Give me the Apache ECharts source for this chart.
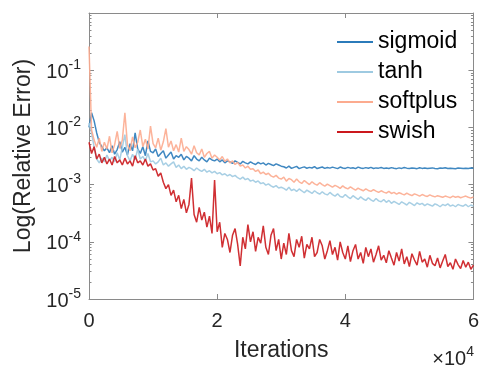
<!DOCTYPE html>
<html>
<head>
<meta charset="utf-8">
<script src="https://cdn.jsdelivr.net/npm/echarts@6/dist/echarts.min.js"></script>
<style>html,body{margin:0;padding:0;background:#fff}#c{width:482px;height:367px}</style>
</head>
<body>
<div id="c"></div>
<script>
// ---- data (iteration step 400, 0..60000) ----
const step = 400;
const sigmoid = [1.0e-2,1.8e-2,1.3e-2,8e-3,5.5e-3,4.6e-3,3.9e-3,4.4e-3,3.6e-3,4.8e-3,3.4e-3,4.1e-3,5.6e-3,3.7e-3,4.5e-3,3.3e-3,5.2e-3,3.9e-3,8.0e-3,4.2e-3,3.5e-3,4.6e-3,3.2e-3,5.8e-3,3.8e-3,
3.6e-3,4.2e-3,3.1e-3,3.5e-3,3.9e-3,2.9e-3,3.3e-3,3.7e-3,2.8e-3,3.2e-3,3.0e-3,3.4e-3,2.7e-3,3.1e-3,2.9e-3,2.6e-3,3.2e-3,2.8e-3,2.6e-3,3.0e-3,2.7e-3,2.5e-3,2.9e-3,2.7e-3,2.6e-3,2.8e-3,2.5e-3,2.7e-3,2.4e-3,2.6e-3,2.5e-3,2.35e-3,2.6e-3,2.45e-3,2.3e-3,2.55e-3,2.4e-3,2.3e-3,2.5e-3,2.35e-3,2.25e-3,2.45e-3,2.3e-3,2.4e-3,2.2e-3,2.35e-3,2.25e-3,2.15e-3,2.3e-3,2.2e-3,2.1e-3,
2.05e-3,1.95e-3,2.1e-3,1.92e-3,2.0e-3,2.08e-3,1.9e-3,1.98e-3,2.04e-3,1.93e-3,2.0e-3,1.95e-3,2.06e-3,1.91e-3,1.97e-3,2.03e-3,1.92e-3,1.99e-3,1.94e-3,2.02e-3,
1.96e-3,1.9e-3,2.03e-3,1.95e-3,1.92e-3,2.0e-3,1.94e-3,1.97e-3,1.9e-3,2.02e-3,1.95e-3,1.92e-3,1.98e-3,1.93e-3,2.0e-3,1.91e-3,1.96e-3,1.94e-3,1.99e-3,1.92e-3,
1.95e-3,1.91e-3,1.98e-3,1.93e-3,1.9e-3,1.96e-3,1.92e-3,1.99e-3,1.94e-3,1.91e-3,1.95e-3,1.93e-3,1.9e-3,1.97e-3,1.92e-3,1.95e-3,1.91e-3,1.94e-3,1.96e-3,1.92e-3,
1.9e-3,1.95e-3,1.93e-3,1.97e-3,1.91e-3,1.94e-3,1.92e-3,1.9e-3,1.95e-3,1.93e-3,1.91e-3,1.94e-3,1.92e-3,1.95e-3,1.93e-3];
const tanh = [1.2e-2,8e-3,4.5e-3,2.8e-3,2.4e-3,2.9e-3,2.5e-3,3.3e-3,2.6e-3,3.0e-3,2.5e-3,3.6e-3,2.7e-3,4.5e-3,7.5e-3,3.2e-3,2.6e-3,3.4e-3,2.7e-3,4.2e-3,2.8e-3,3.1e-3,2.6e-3,3.5e-3,2.5e-3,
2.6e-3,2.3e-3,2.5e-3,2.9e-3,2.2e-3,2.4e-3,2.1e-3,2.3e-3,2.5e-3,2.0e-3,
2.2e-3,1.9e-3,2.1e-3,1.85e-3,2.0e-3,1.9e-3,1.75e-3,1.95e-3,1.8e-3,1.7e-3,
1.85e-3,1.65e-3,1.75e-3,1.6e-3,1.7e-3,1.55e-3,1.62e-3,1.48e-3,1.55e-3,1.42e-3,
1.5e-3,1.38e-3,1.45e-3,1.32e-3,1.25e-3,1.35e-3,1.22e-3,1.28e-3,1.15e-3,1.2e-3,
1.1e-3,1.16e-3,1.04e-3,1.08e-3,0.98e-3,1.03e-3,0.95e-3,0.9e-3,0.96e-3,0.87e-3,0.9e-3,
0.86e-3,0.8e-3,0.9e-3,0.79e-3,0.83e-3,0.76e-3,0.84e-3,0.78e-3,0.72e-3,0.8e-3,0.75e-3,0.7e-3,0.78e-3,0.72e-3,0.68e-3,0.75e-3,0.69e-3,0.66e-3,0.73e-3,0.67e-3,
0.63e-3,0.69e-3,0.62e-3,0.6e-3,0.67e-3,0.61e-3,0.57e-3,0.64e-3,0.59e-3,0.55e-3,0.61e-3,0.56e-3,0.53e-3,0.59e-3,0.54e-3,0.51e-3,0.57e-3,0.52e-3,0.5e-3,0.55e-3,
0.49e-3,0.53e-3,0.47e-3,0.51e-3,0.48e-3,0.45e-3,0.5e-3,0.47e-3,0.44e-3,0.49e-3,0.46e-3,0.43e-3,0.48e-3,0.45e-3,0.47e-3,0.43e-3,0.46e-3,0.44e-3,0.42e-3,0.46e-3,
0.44e-3,0.41e-3,0.45e-3,0.43e-3,0.46e-3,0.42e-3,0.44e-3,0.41e-3,0.45e-3,0.43e-3,0.42e-3,0.45e-3,0.41e-3,0.44e-3,0.42e-3];
const softplus = [2.6e-1,9e-3,6e-3,4.5e-3,6.5e-3,3.8e-3,5.5e-3,4.2e-3,7e-3,3.6e-3,5e-3,8.5e-3,4.3e-3,6e-3,1.8e-2,5e-3,3.9e-3,6.8e-3,4.4e-3,5.5e-3,9e-3,4.6e-3,6.2e-3,4.2e-3,1.05e-2,
5.2e-3,4.4e-3,6.5e-3,4.0e-3,5.6e-3,9.5e-3,4.5e-3,5.8e-3,3.9e-3,5.0e-3,
3.7e-3,6.5e-3,3.8e-3,4.6e-3,4.1e-3,3.4e-3,4.8e-3,3.6e-3,3.3e-3,4.2e-3,
3.0e-3,3.5e-3,3.8e-3,2.9e-3,3.3e-3,3.0e-3,2.7e-3,3.1e-3,2.55e-3,2.8e-3,
2.4e-3,2.6e-3,2.25e-3,2.45e-3,2.1e-3,2.2e-3,1.95e-3,2.1e-3,1.85e-3,1.9e-3,
1.7e-3,1.8e-3,1.55e-3,1.65e-3,1.5e-3,1.58e-3,1.42e-3,1.35e-3,1.45e-3,1.3e-3,1.25e-3,
1.35e-3,1.15e-3,1.28e-3,1.22e-3,1.1e-3,1.25e-3,1.12e-3,1.05e-3,1.18e-3,1.08e-3,1.0e-3,1.12e-3,1.03e-3,0.98e-3,1.08e-3,1.0e-3,0.94e-3,1.02e-3,0.96e-3,0.9e-3,
0.97e-3,0.92e-3,0.86e-3,0.95e-3,0.88e-3,0.84e-3,0.91e-3,0.85e-3,0.8e-3,0.87e-3,0.82e-3,0.78e-3,0.84e-3,0.79e-3,0.76e-3,0.82e-3,0.77e-3,0.73e-3,0.78e-3,0.74e-3,
0.71e-3,0.76e-3,0.7e-3,0.73e-3,0.68e-3,0.72e-3,0.69e-3,0.66e-3,0.71e-3,0.67e-3,0.64e-3,0.69e-3,0.66e-3,0.63e-3,0.67e-3,0.64e-3,0.62e-3,0.66e-3,0.63e-3,0.61e-3,
0.64e-3,0.62e-3,0.6e-3,0.63e-3,0.61e-3,0.59e-3,0.63e-3,0.6e-3,0.62e-3,0.59e-3,0.61e-3,0.63e-3,0.6e-3,0.58e-3,0.61e-3];
const swish = [5.5e-3,3.5e-3,4.6e-3,2.8e-3,3.4e-3,2.4e-3,3.0e-3,2.3e-3,2.8e-3,2.2e-3,3.1e-3,2.4e-3,2.7e-3,2.2e-3,2.9e-3,2.3e-3,2.6e-3,2.1e-3,3.2e-3,2.4e-3,2.6e-3,2.2e-3,2.8e-3,2.1e-3,2.3e-3,
1.8e-3,1.9e-3,1.4e-3,1.6e-3,1.1e-3,8.5e-4,1.0e-3,6.5e-4,8.0e-4,5.0e-4,6.5e-4,3.8e-4,5.5e-4,3.2e-4,4.5e-4,1.3e-3,3.0e-4,2.2e-4,4.0e-4,2.4e-4,3.3e-4,1.8e-4,2.8e-4,1.4e-4,1.2e-3,
1.5e-4,2.2e-4,8.0e-5,1.4e-4,1.1e-4,6.5e-5,1.3e-4,1.7e-4,9.0e-5,3.8e-5,1.2e-4,7.5e-5,2.0e-4,1.0e-4,1.5e-4,6.8e-5,1.2e-4,9.5e-5,1.9e-4,8.0e-5,6.0e-5,1.3e-4,1.7e-4,7.0e-5,1.1e-4,5.0e-5,
9.5e-5,6.0e-5,1.4e-4,7.0e-5,5.5e-5,1.1e-4,8.0e-5,1.25e-4,5.2e-5,9.0e-5,7.5e-5,1.2e-4,5.5e-5,6.5e-5,1.1e-4,8.5e-5,5.0e-5,7.0e-5,1.05e-4,6.0e-5,
8.0e-5,4.8e-5,1.0e-4,6.5e-5,5.0e-5,8.5e-5,4.5e-5,7.0e-5,9.0e-5,5.0e-5,6.5e-5,4.2e-5,8.0e-5,5.5e-5,7.5e-5,4.4e-5,6.0e-5,8.5e-5,4.8e-5,5.8e-5,
4.3e-5,7.0e-5,5.2e-5,3.9e-5,6.5e-5,4.6e-5,7.5e-5,4.1e-5,5.5e-5,3.7e-5,6.2e-5,4.8e-5,3.9e-5,6.8e-5,4.4e-5,5.0e-5,3.6e-5,5.8e-5,4.2e-5,3.8e-5,
5.2e-5,3.5e-5,4.6e-5,6.0e-5,3.7e-5,4.3e-5,3.3e-5,5.0e-5,4.0e-5,3.4e-5,4.7e-5,3.6e-5,4.4e-5,3.3e-5,3.9e-5];
const seriesNames = ['sigmoid','tanh','softplus','swish'];
const seriesColors = ['#2b7bba','#9ecae1','#fcab8f','#cb181d'];
const xTickLabels = ['0','2','4','6'];
const decadeExps = [-5,-4,-3,-2,-1,0];

const FONT = '"Liberation Sans", Arial, Helvetica, sans-serif';
const AXC = '#8a8a8a';
const TXT = '#262626';

function pairs(arr){ return arr.map((v,i)=>[i*step, v]); }
const minorVals = [];
decadeExps.slice(0,-1).forEach(e=>{ for(let m=2;m<=9;m++) minorVals.push(m*Math.pow(10,e)); });
const majorVals = decadeExps.map(e=>Math.pow(10,e));

function yAx(pos, major){
  return {
    type:'log', logBase:10, min:1e-5, max:1, position:pos,
    axisLine:{show:major, onZero:false, lineStyle:{color:AXC,width:1}},
    axisTick:{show:true, inside:true, length: major?5:2.5, customValues: major?majorVals:minorVals, lineStyle:{color:AXC}},
    axisLabel: (major && pos==='left') ? {
      show:true, margin:8, customValues: majorVals,
      formatter:function(v){ const e=Math.round(Math.log10(v)); if(e===0) return ''; return '{b|10}{s|'+e+'}'; },
      rich:{ b:{fontSize:20, fontFamily:FONT, color:TXT, verticalAlign:'bottom', lineHeight:24, padding:[6,0,0,0]},
             s:{fontSize:14, fontFamily:FONT, color:TXT, verticalAlign:'top', lineHeight:14} }
    } : {show:false},
    splitLine:{show:false}, minorTick:{show:false}
  };
}

const chart = echarts.init(document.getElementById('c'), null, {renderer:'canvas'});
chart.setOption({
  animation:false,
  backgroundColor:'#fff',
  grid:{left:89, right:8, top:13, bottom:66, containLabel:false},
  legend:{
    orient:'vertical', left:337, top:30, itemWidth:36, itemHeight:2, itemGap:6, padding:0, icon:'rect',
    textStyle:{fontSize:23, fontFamily:FONT, color:'#000', lineHeight:24},
    data: seriesNames
  },
  xAxis:[{
    type:'value', min:0, max:60000, interval:20000, position:'bottom',
    name:'Iterations', nameLocation:'middle', nameGap:40,
    nameTextStyle:{fontSize:23, fontFamily:FONT, color:TXT},
    axisLine:{show:true, onZero:false, lineStyle:{color:AXC}},
    axisTick:{inside:true, length:5, lineStyle:{color:AXC}},
    axisLabel:{fontSize:20, fontFamily:FONT, color:TXT, margin:12, formatter:function(v){ return xTickLabels[Math.round(v/20000)]; }},
    splitLine:{show:false}
  },{
    type:'value', min:0, max:60000, interval:20000, position:'top',
    axisLine:{show:true, onZero:false, lineStyle:{color:AXC}},
    axisTick:{inside:true, length:5, lineStyle:{color:AXC}},
    axisLabel:{show:false}, splitLine:{show:false}
  }],
  yAxis:[
    Object.assign(yAx('left', true), {name:'Log(Relative Error)', nameLocation:'middle', nameGap:50, nameTextStyle:{fontSize:23, fontFamily:FONT, color:TXT}}),
    yAx('left', false), yAx('right', true), yAx('right', false)
  ],
  series: [sigmoid, tanh, softplus, swish].map((arr,k)=>({
    name: seriesNames[k], type:'line', data: pairs(arr), symbol:'none', showSymbol:false,
    xAxisIndex:0, yAxisIndex:0,
    lineStyle:{color:seriesColors[k], width:1.5, opacity:0.9},
    itemStyle:{color:seriesColors[k]},
    emphasis:{disabled:true}
  })),
  graphic:[{
    type:'text', right:8, top:343,
    style:{ text:'{m|×}{b|10}{s|4}', fill:TXT,
      rich:{ m:{fontSize:20, fontFamily:FONT, fill:TXT, verticalAlign:'bottom', lineHeight:24, padding:[6,0,0,0]},
             b:{fontSize:20, fontFamily:FONT, fill:TXT, verticalAlign:'bottom', lineHeight:24, padding:[6,0,0,0]},
             s:{fontSize:14, fontFamily:FONT, fill:TXT, verticalAlign:'top', lineHeight:14} } }
  }]
});
</script>
</body>
</html>
